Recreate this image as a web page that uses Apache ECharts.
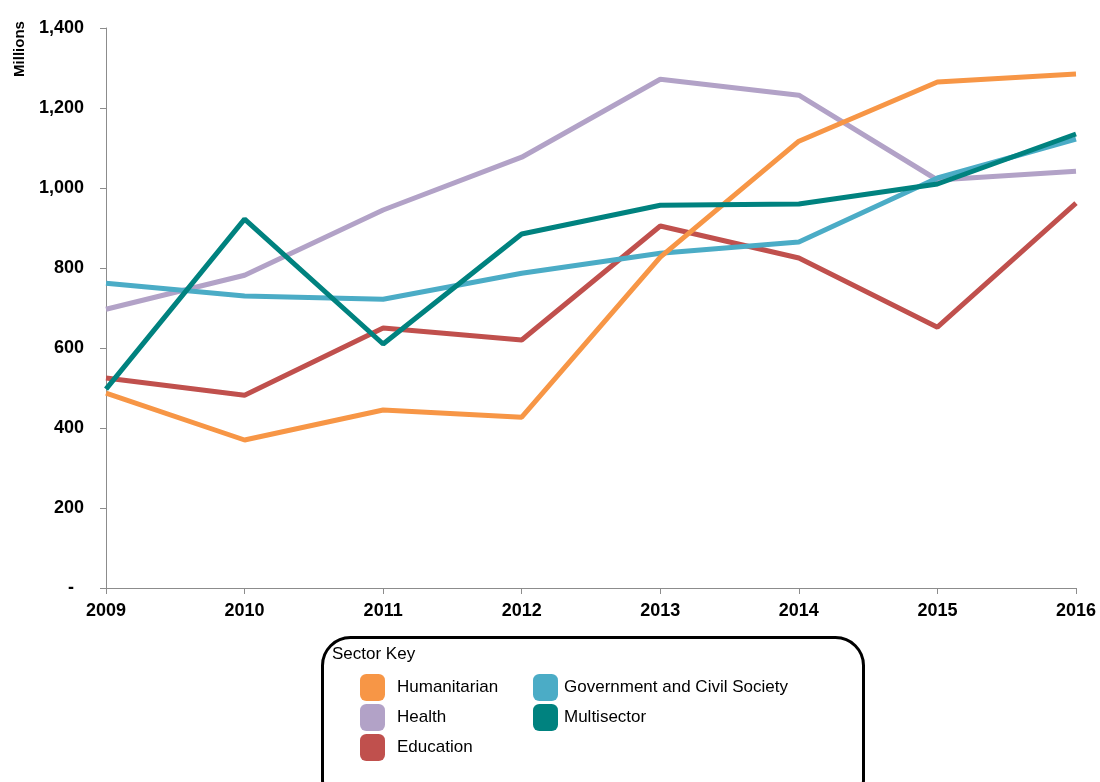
<!DOCTYPE html>
<html>
<head>
<meta charset="utf-8">
<script src="https://cdn.jsdelivr.net/npm/echarts@6/dist/echarts.min.js"></script>
<style>html,body{margin:0;padding:0;background:#fff}#c{width:1100px;height:782px}</style>
</head>
<body>
<div id="c"></div>
<script>
var years = ['2009','2010','2011','2012','2013','2014','2015','2016'];
var humanitarian = [487, 370, 445, 427, 827, 1117, 1265, 1285];
var health = [697, 782, 945, 1077, 1272, 1232, 1020, 1042];
var education = [525, 482, 650, 620, 905, 825, 652, 962];
var government = [762, 730, 722, 787, 837, 865, 1025, 1122];
var multisector = [497, 922, 610, 885, 957, 960, 1010, 1135];

var font = 'Liberation Sans, Arial, sans-serif';
function line(name, data, color) {
  return {name: name, type: 'line', data: data, symbol: 'none', showSymbol: false,
    lineStyle: {width: 5, color: color}, itemStyle: {color: color}};
}
var chart = echarts.init(document.getElementById('c'), null, {renderer: 'canvas'});
chart.setOption({
  animation: false,
  grid: {left: 106, right: 24, top: 28, bottom: 194, containLabel: false},
  xAxis: {
    type: 'category', data: years, boundaryGap: false,
    axisLine: {lineStyle: {color: '#8c8c8c', width: 1}},
    axisTick: {show: true, alignWithLabel: true, length: 6, lineStyle: {color: '#8c8c8c'}},
    axisLabel: {color: '#000', fontFamily: font, fontWeight: 'bold', fontSize: 18, margin: 14},
    splitLine: {show: false}
  },
  yAxis: {
    type: 'value', min: 0, max: 1400, interval: 200,
    axisLine: {show: true, lineStyle: {color: '#8c8c8c', width: 1}},
    axisTick: {show: true, length: 6, lineStyle: {color: '#8c8c8c'}},
    axisLabel: {color: '#000', fontFamily: font, fontWeight: 'bold', fontSize: 18, margin: 22,
      formatter: function (v) { return v === 0 ? '{d|-}' : v.toLocaleString('en-US'); },
      rich: {d: {fontFamily: font, fontWeight: 'bold', fontSize: 18, color: '#000', padding: [0, 10, 0, 0]}}},
    splitLine: {show: false}
  },
  legend: [{
    data: ['Humanitarian', 'Health', 'Education'],
    orient: 'vertical', left: 360, top: 674, padding: 0, itemWidth: 25, itemHeight: 27, itemGap: 3,
    icon: 'roundRect', selectedMode: false,
    textStyle: {color: '#000', fontFamily: font, fontSize: 17, padding: [0, 0, 0, 7]}
  }, {
    data: ['Government and Civil Society', 'Multisector'],
    orient: 'vertical', left: 533, top: 674, padding: 0, itemWidth: 25, itemHeight: 27, itemGap: 3,
    icon: 'roundRect', selectedMode: false,
    textStyle: {color: '#000', fontFamily: font, fontSize: 17, padding: [0, 0, 0, 1]}
  }],
  graphic: [{
    type: 'rect', left: 320, top: 635,
    shape: {width: 541, height: 170, r: 28},
    style: {fill: 'none', stroke: '#000', lineWidth: 3}, z: 0
  }, {
    type: 'text', left: 332, top: 646,
    style: {text: 'Sector Key', fill: '#000', font: '17px ' + font}
  }, {
    type: 'text', x: 20, y: 49, rotation: Math.PI / 2,
    style: {text: 'Millions', fill: '#000', font: 'bold 15px ' + font, align: 'center', verticalAlign: 'middle'}
  }],
  series: [
    line('Education', education, '#C0504D'),
    line('Health', health, '#B2A2C7'),
    line('Government and Civil Society', government, '#4BACC6'),
    line('Humanitarian', humanitarian, '#F79646'),
    line('Multisector', multisector, '#00827F')
  ]
});
</script>
</body>
</html>
